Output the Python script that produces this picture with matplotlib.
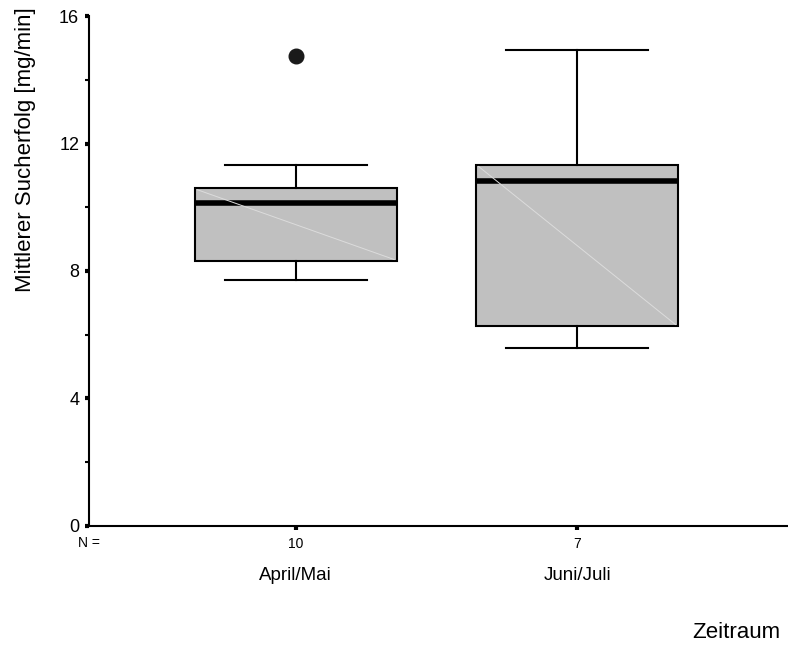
import matplotlib.pyplot as plt

plt.rcParams['font.family'] = ['Liberation Sans', 'DejaVu Sans']

groups = ['April/Mai', 'Juni/Juli']
n_values = [10, 7]
q1 = [8.31, 6.27]
med = [10.13, 10.82]
q3 = [10.60, 11.33]
whislo = [7.72, 5.58]
whishi = [11.33, 14.93]
fliers = [[14.75], []]

stats = []
for i in range(len(groups)):
    stats.append({'med': med[i], 'q1': q1[i], 'q3': q3[i],
                  'whislo': whislo[i], 'whishi': whishi[i],
                  'fliers': fliers[i], 'label': groups[i]})

fig = plt.figure(figsize=(7.88, 6.46), dpi=100)
ax = fig.add_axes([0.1129, 0.1858, 0.8871, 0.7894])

pos = [1, 2]
ax.bxp(stats, positions=pos, widths=0.717, patch_artist=True,
       boxprops=dict(facecolor='#c0c0c0', edgecolor='black', linewidth=1.5),
       medianprops=dict(color='black', linewidth=4),
       whiskerprops=dict(color='black', linewidth=1.5),
       capprops=dict(color='black', linewidth=1.5),
       capwidths=0.505,
       flierprops=dict(marker='o', markerfacecolor='#1a1a1a', markeredgecolor='#1a1a1a',
                       markersize=10.5))

# faint diagonal artifact inside the boxes
for i, p in enumerate(pos):
    ax.plot([p - 0.35, p + 0.35], [q3[i] - 0.05, q1[i] + 0.05], color='#dcdcdc', lw=0.7, zorder=3)

ax.set_xlim(0.265, 2.75)
ax.set_ylim(0, 16)
ax.spines['top'].set_visible(False)
ax.spines['right'].set_visible(False)
ax.spines['left'].set_linewidth(1.5)
ax.spines['bottom'].set_linewidth(1.5)

ax.set_yticks([0, 4, 8, 12, 16])
ax.set_yticks([2, 6, 10, 14], minor=True)
ax.tick_params(axis='y', which='major', length=3, width=3, labelsize=13, pad=4)
ax.tick_params(axis='y', which='minor', length=3, width=1.5)

ax.set_xticks(pos)
ax.set_xticklabels([str(n) for n in n_values])
ax.tick_params(axis='x', length=3, width=3, labelsize=10, pad=5)

ax.text(0.265, -0.033, 'N =', fontsize=10, ha='center', va='center',
        transform=ax.get_xaxis_transform())
for p, g in zip(pos, groups):
    ax.text(p, -0.097, g, fontsize=13.5, ha='center', va='center',
            transform=ax.get_xaxis_transform())

fig.text(0.934, 1 - 632 / 646, 'Zeitraum', fontsize=16, ha='center', va='center')
fig.text(0.032, 1 - 150 / 646, 'Mittlerer Sucherfolg [mg/min]', fontsize=16,
         rotation=90, ha='center', va='center')

fig.savefig('out.png', dpi=100)
